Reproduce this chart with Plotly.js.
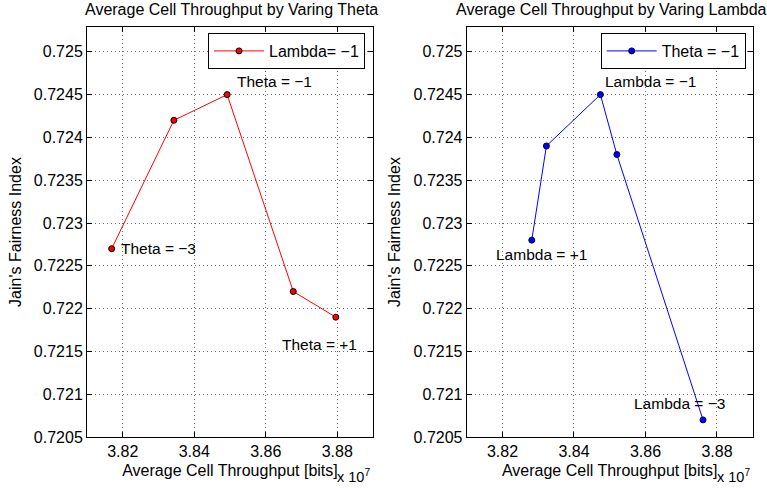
<!DOCTYPE html>
<html>
<head>
<meta charset="utf-8">
<script src="https://cdn.plot.ly/plotly-3.0.1.min.js"></script>
<style>html,body{margin:0;padding:0;background:#fff;}#chart{width:767px;height:488px;}</style>
</head>
<body>
<div id="chart"></div>
<script>
// Throughput in units of 1e7 bits
const thetaX = [3.8169, 3.8343, 3.8492, 3.8677, 3.8796];
const thetaY = [0.7227, 0.7242, 0.7245, 0.7222, 0.7219];
const lambdaX = [3.8282, 3.8323, 3.8474, 3.8520, 3.8761];
const lambdaY = [0.7228, 0.7239, 0.7245, 0.7238, 0.7207];
const yTickVals = [0.7205, 0.721, 0.7215, 0.722, 0.7225, 0.723, 0.7235, 0.724, 0.7245, 0.725];
const yTickText = ['0.7205', '0.721', '0.7215', '0.722', '0.7225', '0.723', '0.7235', '0.724', '0.7245', '0.725'];
const xTickVals = [3.82, 3.84, 3.86, 3.88];
const xTickText = ['3.82', '3.84', '3.86', '3.88'];
const titles = ['Average Cell Throughput by Varing Theta', 'Average Cell Throughput by Varing Lambda'];
const xTitle = 'Average Cell Throughput [bits]';
const yTitle = 'Jain\'s Fairness Index';
const legendNames = ['Lambda= \u22121', 'Theta = \u22121'];
const thetaLabels = ['Theta = \u22121', 'Theta = \u22123', 'Theta = +1'];
const lambdaLabels = ['Lambda = \u22121', 'Lambda = +1', 'Lambda = \u22123'];

const W = 767, H = 488;
const FONT = 'Liberation Sans, Arial, Helvetica, sans-serif';
const px = v => v / W;
const py = v => 1 - v / H;

const traces = [
  {x: thetaX, y: thetaY, xaxis: 'x', yaxis: 'y', mode: 'lines+markers', name: legendNames[0],
   line: {color: '#ff0000', width: 1}, marker: {color: '#ff0000', size: 6, line: {color: '#000', width: 1}},
   legend: 'legend'},
  {x: lambdaX, y: lambdaY, xaxis: 'x2', yaxis: 'y2', mode: 'lines+markers', name: legendNames[1],
   line: {color: '#0000ff', width: 1}, marker: {color: '#0000ff', size: 6, line: {color: '#000040', width: 1}},
   legend: 'legend2'}
];

const common = {ticks: 'inside', ticklen: 5, tickcolor: '#000', showline: true, linecolor: '#000', linewidth: 1,
  mirror: 'ticks', showgrid: true, gridcolor: 'rgba(0,0,0,0.6)', griddash: '1px,3px', gridwidth: 1,
  zeroline: false, automargin: false, tickfont: {family: FONT, size: 16, color: '#000'}};

function xax(dom, anchor) {
  return Object.assign({domain: dom, anchor: anchor, range: [3.81, 3.89], tickvals: xTickVals, ticktext: xTickText,
    title: {text: xTitle, standoff: 5, font: {family: FONT, size: 16, color: '#000'}}}, common);
}
function yax(anchor) {
  return Object.assign({domain: [51 / H, 1 - 27 / H], anchor: anchor, range: [0.7205, 0.72529], tickvals: yTickVals, ticktext: yTickText,
    title: {text: yTitle, standoff: 8, font: {family: FONT, size: 16, color: '#000'}}}, common);
}

const ann = [];
const txt = (text, x, y, opts) => Object.assign({text: text, x: x, y: y, xref: 'paper', yref: 'paper',
  showarrow: false, xanchor: 'center', yanchor: 'middle', font: {family: FONT, size: 16, color: '#000'}}, opts || {});

ann.push(txt(titles[0], px(231), py(10)));
ann.push(txt(titles[1], px(611), py(10)));
ann.push(txt('x 10<sup>7</sup>', px(335), py(476), {xanchor: 'left', font: {family: FONT, size: 14.5, color: '#000'}}));
ann.push(txt('x 10<sup>7</sup>', px(715), py(476), {xanchor: 'left', font: {family: FONT, size: 14.5, color: '#000'}}));

// point labels (anchored to data points)
const pl = (text, x, y, xr, yr, xa, xs, ys) => ({text: text, x: x, y: y, xref: xr, yref: yr, showarrow: false,
  xanchor: xa, yanchor: 'middle', xshift: xs, yshift: ys, font: {family: FONT, size: 15.5, color: '#000'}});
ann.push(pl(thetaLabels[0], thetaX[2], thetaY[2], 'x', 'y', 'left', 8, 13));
ann.push(pl(thetaLabels[1], thetaX[0], thetaY[0], 'x', 'y', 'left', 7, 0));
ann.push(pl(thetaLabels[2], thetaX[4], thetaY[4], 'x', 'y', 'center', -16, -27));
ann.push(pl(lambdaLabels[0], lambdaX[2], lambdaY[2], 'x2', 'y2', 'left', 3, 13));
ann.push(pl(lambdaLabels[1], lambdaX[0], lambdaY[0], 'x2', 'y2', 'center', 10, -14));
ann.push(pl(lambdaLabels[2], lambdaX[4], lambdaY[4], 'x2', 'y2', 'center', -24, 16));

const legendBase = {xanchor: 'right', yanchor: 'top', y: py(33), bgcolor: '#fff', bordercolor: '#000', borderwidth: 1,
  font: {family: FONT, size: 16, color: '#000'}, itemwidth: 50, tracegroupgap: 0};

const layout = {
  width: W, height: H, margin: {l: 0, r: 0, t: 0, b: 0}, paper_bgcolor: '#fff', plot_bgcolor: '#fff',
  showlegend: true,
  xaxis: xax([87 / W, 373 / W], 'y'), yaxis: yax('x'),
  xaxis2: xax([466.7 / W, 752.7 / W], 'y2'), yaxis2: yax('x2'),
  legend: Object.assign({}, legendBase, {x: px(365)}),
  legend2: Object.assign({}, legendBase, {x: px(745.7)}),
  annotations: ann
};

Plotly.newPlot('chart', traces, layout, {displayModeBar: false, staticPlot: true});
</script>
</body>
</html>
